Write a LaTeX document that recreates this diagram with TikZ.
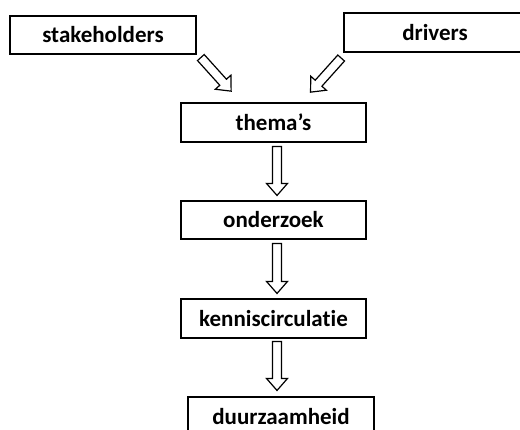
\documentclass[tikz,border=0pt]{standalone}
\usepackage{fontspec}
\setmainfont[Ligatures=NoCommon]{Carlito}
\usetikzlibrary{calc}
\tikzset{
  box/.style={draw=black, line width=1.1pt, rectangle, inner sep=0pt,
    font=\bfseries\fontsize{23}{27}\selectfont, text=black},
  harrow/.style={draw=black, line width=1.2pt, fill=white, line join=miter}
}
\newcommand\hollowarrow[2]{%
  \coordinate (#1-c) at ($(#2)!12pt!(#1)$);
  \draw[harrow] ($(#1)!4.5pt!90:(#2)$) -- ($(#1-c)!4.5pt!-90:(#1)$)
    -- ($(#1-c)!10.5pt!-90:(#1)$) -- (#2) -- ($(#1-c)!10.5pt!90:(#1)$)
    -- ($(#1-c)!4.5pt!90:(#1)$) -- ($(#1)!4.5pt!-90:(#2)$) -- cycle;}
\begin{document}
\begin{tikzpicture}[x=1pt,y=-1pt]
\useasboundingbox[fill=white] (0,0) rectangle (520,430);
\node[box, minimum width=186pt, minimum height=38pt] (stake) at (103,35) {stakeholders};
\node[box, minimum width=182pt, minimum height=39pt] (drivers) at (435,32.5) {drivers};
\node[box, minimum width=185pt, minimum height=39pt] (thema) at (273.5,122.5) {thema’s};
\node[box, minimum width=185pt, minimum height=38pt] (onderzoek) at (273.5,220) {onderzoek};
\node[box, minimum width=185pt, minimum height=39pt] (kennis) at (273.5,318.5) {kenniscirculatie};
\node[box, minimum width=186pt, minimum height=39pt] (duurzaam) at (281,416.5) {duurzaamheid};
% diagonal arrows
\coordinate (d1s) at ($(stake.south east)+(4.3,3)$);
\coordinate (d1e) at ($(thema.north west)+(50.7,-11.3)$);
\coordinate (d2s) at ($(drivers.south west)+(-2.3,5.5)$);
\coordinate (d2e) at ($(thema.north east)+(-56,-10.3)$);
\hollowarrow{d1s}{d1e}
\hollowarrow{d2s}{d2e}
% vertical arrows
\coordinate (v1s) at ($(thema.south)+(3.5,4)$);
\coordinate (v1e) at ($(onderzoek.north)+(3.5,-5)$);
\coordinate (v2s) at ($(onderzoek.south)+(3.5,4)$);
\coordinate (v2e) at ($(kennis.north)+(3.5,-5)$);
\coordinate (v3s) at ($(kennis.south)+(3.5,3)$);
\coordinate (v3e) at ($(duurzaam.north)+(-4,-6)$);
\hollowarrow{v1s}{v1e}
\hollowarrow{v2s}{v2e}
\hollowarrow{v3s}{v3e}
\end{tikzpicture}
\end{document}
